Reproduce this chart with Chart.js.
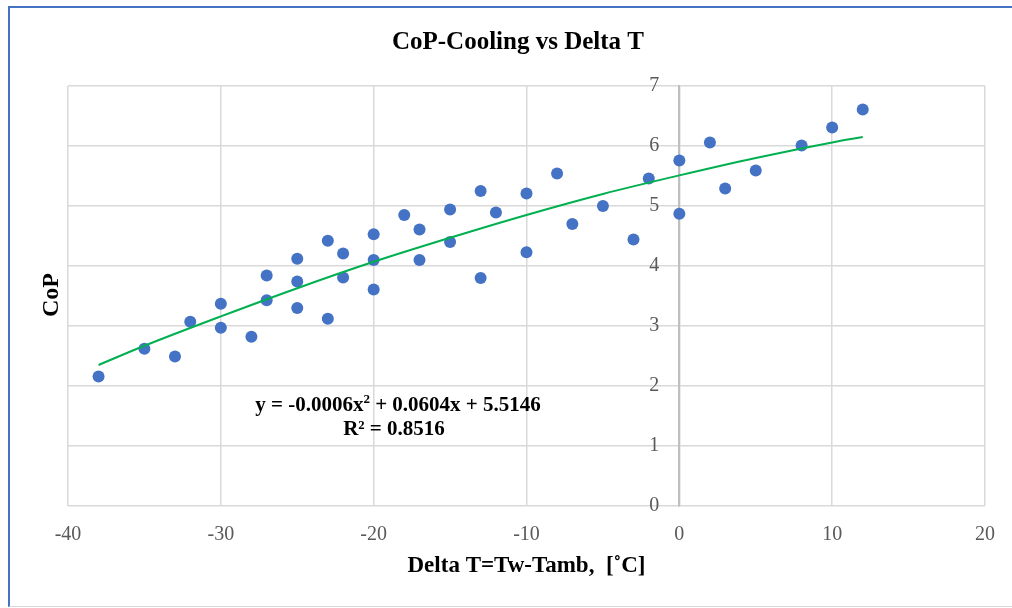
<!DOCTYPE html>
<html>
<head>
<meta charset="utf-8">
<script src="https://cdn.jsdelivr.net/npm/chart.js@4.4.1/dist/chart.umd.min.js"></script>
<style>
  html, body { margin: 0; padding: 0; background: #ffffff; }
  #wrap { position: relative; width: 1012px; height: 608px; overflow: hidden; }
  #frame { position: absolute; left: 8px; top: 6px; right: -4px; bottom: 1px;
           border-top: 2px solid #4472C4; border-left: 2px solid #4472C4;
           border-bottom: 1px solid #d9d9d9; pointer-events: none; }
  canvas { position: absolute; left: 0; top: 0; }
</style>
</head>
<body>
<div id="wrap">
  <canvas id="c" width="1012" height="608"></canvas>
  <div id="frame"></div>
</div>
<script>
// ---- data ----
const deltaT = [-38, -35, -33, -32, -30, -30, -28, -27, -27, -25, -25, -25, -23, -23, -22, -22,
                -20, -20, -20, -18, -17, -17, -15, -15, -13, -13, -12, -10, -10, -8, -7, -5,
                -3, -2, 0, 0, 2, 3, 5, 8, 10, 12];
const cop = [2.16, 2.62, 2.49, 3.07, 3.37, 2.97, 2.82, 3.84, 3.43, 4.12, 3.74, 3.30, 4.42, 3.12, 4.21, 3.81,
             4.53, 4.10, 3.61, 4.85, 4.61, 4.10, 4.94, 4.40, 5.25, 3.80, 4.89, 5.21, 4.23, 5.54, 4.70, 5.00,
             4.44, 5.46, 5.76, 4.87, 6.06, 5.29, 5.59, 6.01, 6.31, 6.61];
// trendline points
const trendX = [-38, -35, -30, -25, -20, -15, -10, -5, 0, 5, 10, 12];
const trendY = [2.35, 2.67, 3.16, 3.63, 4.07, 4.47, 4.85, 5.20, 5.51, 5.80, 6.06, 6.15];
const xTicks = [-40, -30, -20, -10, 0, 10, 20];
const yTicks = [0, 1, 2, 3, 4, 5, 6, 7];
const titleText = 'CoP-Cooling vs Delta T';
const xTitle = 'Delta T=Tw-Tamb,  [\u02DAC]';
const yTitle = 'CoP';
const eqLine1 = ['y = -0.0006x', '2', ' + 0.0604x + 5.5146'];
const eqLine2 = 'R\u00B2 = 0.8516';

const scatterPts = deltaT.map((x, i) => ({ x: x, y: cop[i] }));
const trendPts = trendX.map((x, i) => ({ x: x, y: trendY[i] }));

const SERIF = '"Liberation Serif", "DejaVu Serif", serif';

const textPlugin = {
  id: 'texts',
  afterDraw(chart) {
    const ctx = chart.ctx;
    ctx.save();
    ctx.fillStyle = '#000000';
    // chart title
    ctx.font = 'bold 25px ' + SERIF;
    ctx.textAlign = 'center';
    ctx.textBaseline = 'middle';
    ctx.fillText(titleText, 518, 43);
    // y title
    ctx.font = 'bold 24px ' + SERIF;
    ctx.translate(52, 295);
    ctx.rotate(-Math.PI / 2);
    ctx.fillText(yTitle, 0, 0);
    ctx.restore();

    // equation
    ctx.save();
    ctx.fillStyle = '#000000';
    ctx.textBaseline = 'alphabetic';
    const big = 'bold 21px ' + SERIF;
    const small = 'bold 13px ' + SERIF;
    ctx.font = big;
    const w0 = ctx.measureText(eqLine1[0]).width;
    const w2 = ctx.measureText(eqLine1[2]).width;
    ctx.font = small;
    const w1 = ctx.measureText(eqLine1[1]).width;
    const total = w0 + w1 + w2;
    const cx = 398, y1 = 411;
    let x0 = cx - total / 2;
    ctx.textAlign = 'left';
    ctx.font = big; ctx.fillText(eqLine1[0], x0, y1);
    ctx.font = small; ctx.fillText(eqLine1[1], x0 + w0, y1 - 8);
    ctx.font = big; ctx.fillText(eqLine1[2], x0 + w0 + w1, y1);
    ctx.textAlign = 'center';
    ctx.fillText(eqLine2, 394, y1 + 24);
    ctx.restore();
  }
};

new Chart(document.getElementById('c'), {
  type: 'scatter',
  data: {
    datasets: [
      {
        label: 'Trend',
        type: 'line',
        data: trendPts,
        borderColor: '#00B050',
        borderWidth: 2,
        pointRadius: 0,
        fill: false,
        tension: 0.4,
        cubicInterpolationMode: 'monotone',
        order: 1
      },
      {
        label: 'CoP',
        data: scatterPts,
        backgroundColor: '#4472C4',
        borderColor: '#4472C4',
        pointRadius: 6,
        pointBorderWidth: 0,
        order: 2
      }
    ]
  },
  options: {
    responsive: false,
    animation: false,
    layout: { padding: { left: 68, right: 25, top: 86, bottom: 30.6 } },
    plugins: {
      legend: { display: false },
      tooltip: { enabled: false },
      title: { display: false }
    },
    scales: {
      x: {
        type: 'linear',
        min: -40, max: 20,
        afterBuildTicks: s => { s.ticks = xTicks.map(v => ({ value: v })); },
        afterFit: s => { s.height = 71.4; },
        grid: { color: '#d9d9d9', lineWidth: 1.5, drawTicks: false },
        border: { display: false },
        ticks: { color: '#595959', font: { family: SERIF, size: 20 }, padding: 17 },
        title: {
          display: true, text: xTitle, color: '#000000',
          font: { family: SERIF, size: 23, weight: 'bold', lineHeight: 1.0 },
          padding: { top: 0, bottom: 0 }
        }
      },
      y: {
        type: 'linear',
        position: { x: 0 },
        min: 0, max: 7,
        afterBuildTicks: s => { s.ticks = yTicks.map(v => ({ value: v })); },
        grid: { color: '#d9d9d9', lineWidth: 1.5, drawTicks: false },
        border: { display: true, color: '#bfbfbf', width: 2 },
        ticks: {
          color: '#595959', font: { family: SERIF, size: 20 }, padding: 0,
          callback: v => String(v) + '    '
        }
      }
    }
  },
  plugins: [textPlugin]
});
</script>
</body>
</html>
